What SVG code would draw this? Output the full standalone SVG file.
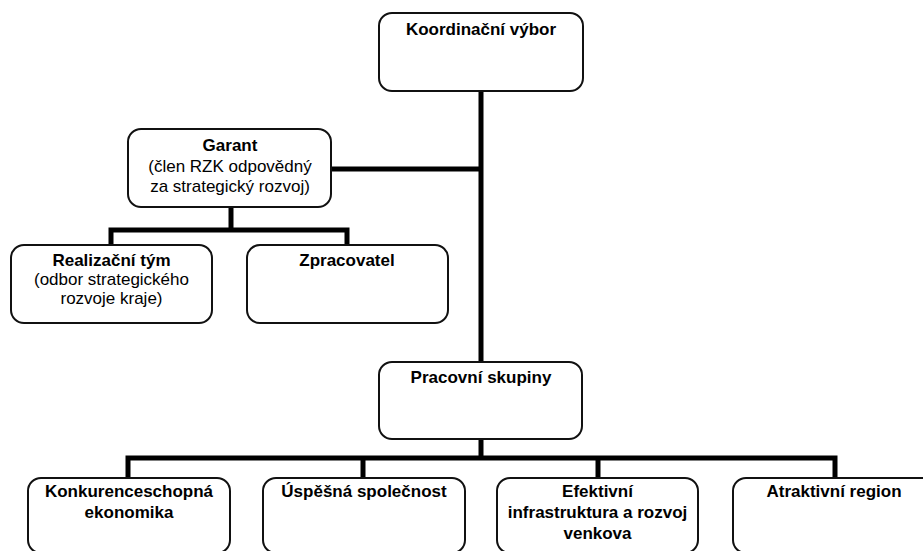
<svg xmlns="http://www.w3.org/2000/svg" width="923" height="551" viewBox="0 0 923 551">
<style>
.box{fill:#fff;stroke:#111;stroke-width:2}
.ln{stroke:#000;stroke-width:5;fill:none}
text{font-family:"Liberation Sans",Arial,sans-serif;font-size:17px;fill:#000;text-anchor:middle}
.b{font-weight:bold}
</style>
<rect width="923" height="551" fill="#fff"/>
<g id="connectors">
<path class="ln" d="M481 91 V362"/>
<path class="ln" d="M331 169 H481"/>
<path class="ln" d="M231 207 V230"/>
<path class="ln" d="M111 245 V230 H347 V245"/>
<path class="ln" d="M481 439 V458"/>
<path class="ln" d="M128 478 V458 H835 V478"/>
<path class="ln" d="M363 458 V478"/>
<path class="ln" d="M598 458 V478"/>
</g>
<g id="koordinacni">
<rect class="box" x="379" y="13" width="204" height="78" rx="13"/>
<text class="b" x="481" y="35">Koordinační výbor</text>
</g>
<g id="garant">
<rect class="box" x="128" y="129" width="203" height="78" rx="13"/>
<text class="b" x="230" y="151">Garant</text>
<text x="230" y="172">(člen RZK odpovědný</text>
<text x="230" y="192">za strategický rozvoj)</text>
</g>
<g id="realizacni">
<rect class="box" x="11" y="245" width="201" height="78" rx="13"/>
<text class="b" x="111.5" y="266">Realizační tým</text>
<text x="111.5" y="285">(odbor strategického</text>
<text x="111.5" y="304">rozvoje kraje)</text>
</g>
<g id="zpracovatel">
<rect class="box" x="247" y="245" width="201" height="78" rx="13"/>
<text class="b" x="347" y="266">Zpracovatel</text>
</g>
<g id="pracovni">
<rect class="box" x="379" y="362" width="203" height="77" rx="13"/>
<text class="b" x="481" y="383">Pracovní skupiny</text>
</g>
<g id="konkurence">
<rect class="box" x="28" y="478" width="202" height="75" rx="13"/>
<text class="b" x="129" y="497">Konkurenceschopná</text>
<text class="b" x="129" y="518">ekonomika</text>
</g>
<g id="uspesna">
<rect class="box" x="263" y="478" width="202" height="75" rx="13"/>
<text class="b" x="364" y="497">Úspěšná společnost</text>
</g>
<g id="efektivni">
<rect class="box" x="497" y="478" width="201" height="75" rx="13"/>
<text class="b" x="597.5" y="497">Efektivní</text>
<text class="b" x="597.5" y="518">infrastruktura a rozvoj</text>
<text class="b" x="597.5" y="539">venkova</text>
</g>
<g id="atraktivni">
<rect class="box" x="733" y="478" width="202" height="75" rx="13"/>
<text class="b" x="834" y="497">Atraktivní region</text>
</g>
</svg>
